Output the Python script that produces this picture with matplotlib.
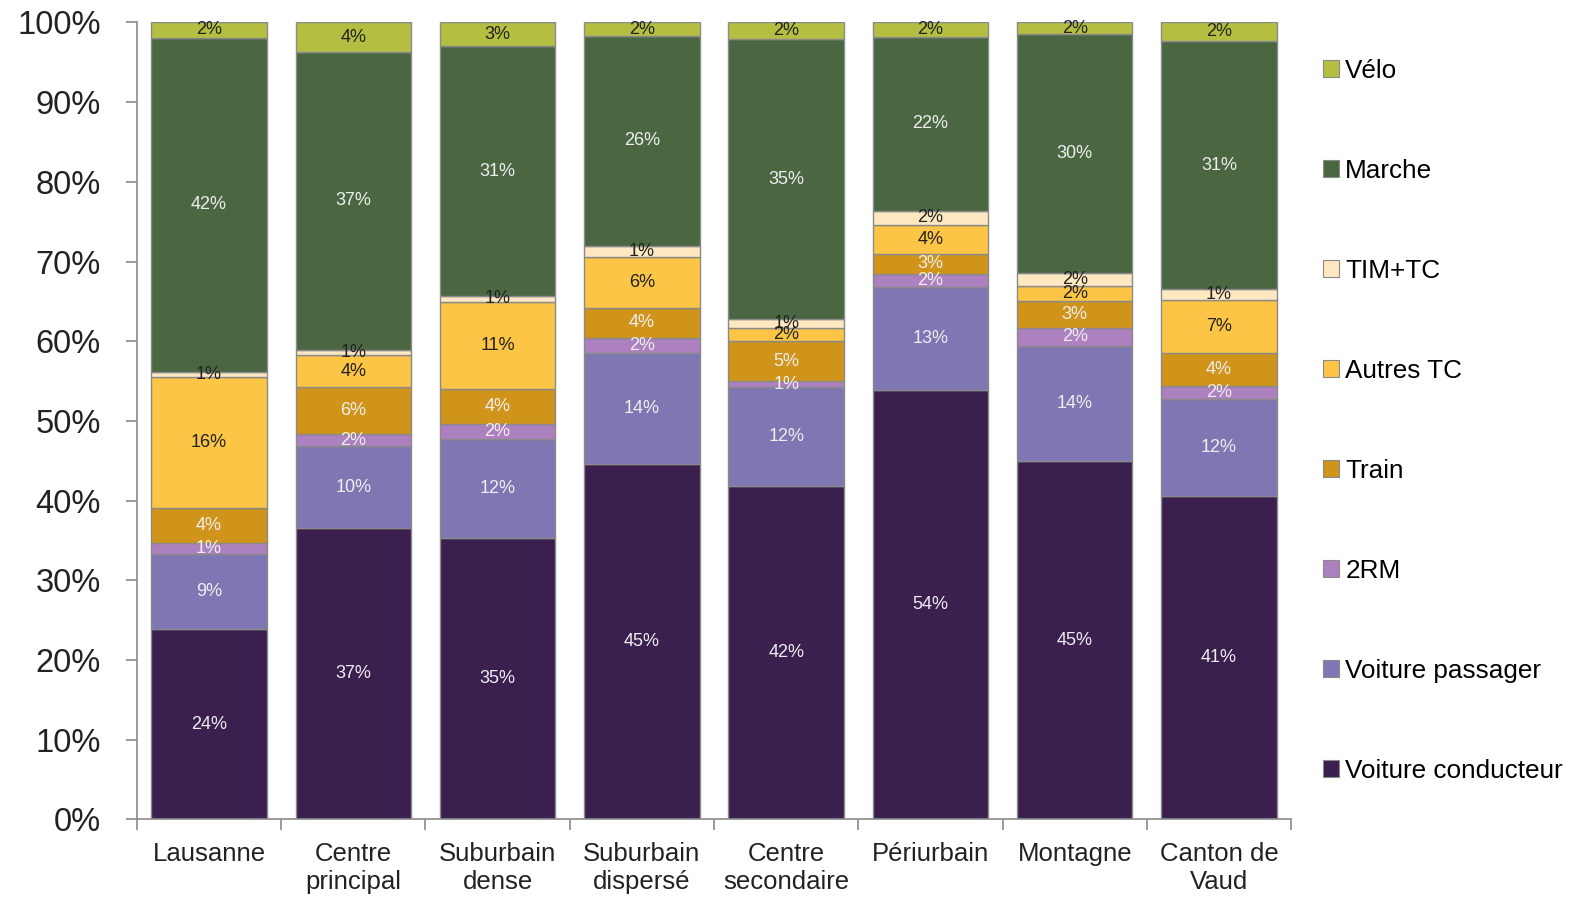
import numpy as np
import matplotlib.pyplot as plt
from matplotlib.patches import Patch
from matplotlib.ticker import FixedLocator, PercentFormatter

plt.rcParams["font.family"] = ["Liberation Sans", "DejaVu Sans"]

zones = ["Lausanne", "Centre\nprincipal", "Suburbain\ndense", "Suburbain\ndispersé",
         "Centre\nsecondaire", "Périurbain", "Montagne", "Canton de\nVaud"]

# parts modales (%) par type d'espace, du bas vers le haut de la pile
voiture_conducteur = [23.9, 36.6, 35.3, 44.6, 41.8, 53.9, 45.0, 40.6]
voiture_passager = [9.4, 10.2, 12.4, 13.9, 12.4, 12.9, 14.4, 12.1]
deux_rm = [1.4, 1.6, 1.9, 1.9, 0.8, 1.6, 2.3, 1.7]
train = [4.4, 5.8, 4.4, 3.8, 5.0, 2.6, 3.4, 4.1]
autres_tc = [16.4, 4.1, 10.9, 6.4, 1.6, 3.6, 1.8, 6.7]
tim_tc = [0.7, 0.6, 0.8, 1.4, 1.2, 1.8, 1.6, 1.3]
marche = [41.9, 37.4, 31.3, 26.3, 35.1, 21.8, 30.0, 31.2]
velo = [1.9, 3.7, 3.0, 1.7, 2.1, 1.8, 1.5, 2.3]

modes = ["Voiture conducteur", "Voiture passager", "2RM", "Train",
         "Autres TC", "TIM+TC", "Marche", "Vélo"]
series = [voiture_conducteur, voiture_passager, deux_rm, train,
          autres_tc, tim_tc, marche, velo]
colors = ["#3a1f4f", "#7f77b3", "#ad80bf", "#d1941a",
          "#fcc545", "#fde8c2", "#4a6742", "#b4bf42"]
text_colors = ["#eeeeee", "#eeeeee", "#eeeeee", "#eeeeee",
               "#222222", "#222222", "#eeeeee", "#222222"]

fig = plt.figure(figsize=(15.92, 8.97), dpi=100)
ax = fig.add_axes([0.086, 0.0865, 0.725, 0.8885])

x = np.arange(len(zones))
bottom = np.zeros(len(zones))
for name, vals, col, tcol in zip(modes, series, colors, text_colors):
    vals = np.array(vals)
    ax.bar(x, vals, width=0.8, bottom=bottom, color=col,
           edgecolor="#8a8a8a", linewidth=1.0, label=name)
    for xi, b, v in zip(x, bottom, vals):
        ax.text(xi, b + v / 2, f"{v:.0f}%", ha="center", va="center",
                fontsize=13, color=tcol)
    bottom += vals

ax.set_xlim(-0.5, len(zones) - 0.5)
ax.set_ylim(0, 100)
ax.yaxis.set_major_locator(FixedLocator(np.arange(0, 101, 10)))
ax.yaxis.set_major_formatter(PercentFormatter(decimals=0))
ax.set_xticks(x)
ax.set_xticklabels(zones, fontsize=18.5, color="#222222", linespacing=1.25)
ax.xaxis.set_minor_locator(FixedLocator(np.arange(-0.5, len(zones), 1.0)))
ax.tick_params(axis="x", which="major", length=0, pad=16)
ax.tick_params(axis="x", which="minor", length=8, color="#8a8a8a", width=1.2)
ax.tick_params(axis="y", labelsize=23.5, colors="#222222", length=8,
               width=1.2, pad=18)
ax.tick_params(axis="y", color="#8a8a8a")

for side in ["top", "right"]:
    ax.spines[side].set_visible(False)
for side in ["left", "bottom"]:
    ax.spines[side].set_color("#8a8a8a")
    ax.spines[side].set_linewidth(1.2)

handles = [Patch(facecolor=c, edgecolor="#8a8a8a", linewidth=0.8) for c in colors]
fig.legend(handles[::-1], modes[::-1], loc="upper left",
           bbox_to_anchor=(0.8245, 0.946), frameon=False, fontsize=18.8,
           handlelength=0.6, handleheight=0.6, handletextpad=0.25,
           labelspacing=2.91, borderaxespad=0)

fig.savefig("out.png", dpi=100)
